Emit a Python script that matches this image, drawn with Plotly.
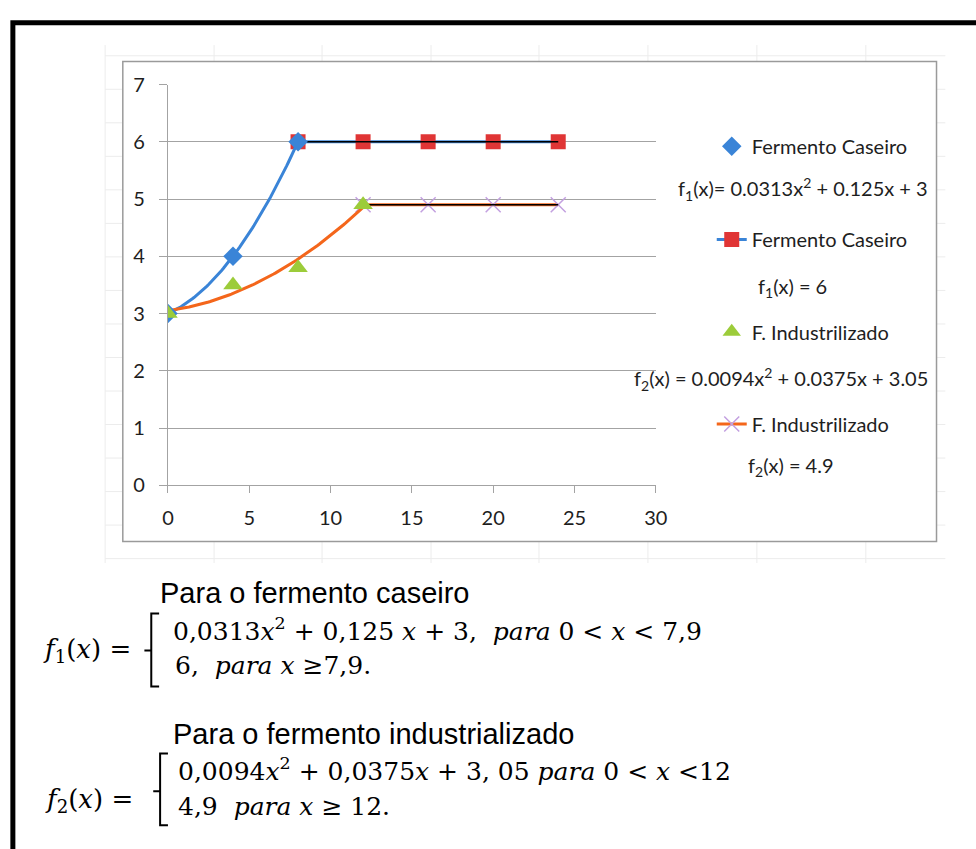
import numpy as np
import plotly.graph_objects as go

W, H = 976, 849

# ---------------- data ----------------
caseiro_x = [0, 4, 8]
caseiro_y = [3, 4, 6]
caseiro_plateau_x = [8, 12, 16, 20, 24]
caseiro_plateau_y = [6, 6, 6, 6, 6]

indus_x = [0, 4, 8, 12]
indus_y = [3.0, 3.5, 3.8, 4.9]
indus_plateau_x = [12, 16, 20, 24]
indus_plateau_y = [4.9, 4.9, 4.9, 4.9]

# trendline coefficients (as printed on the chart) and their spans
f1_coef = [0.0313, 0.125, 3.0]
f1_span = [0, 8]
f1_const = 6.0
f1_const_span = [8, 24]
f2_coef = [0.0094, 0.0375, 3.05]
f2_span = [0, 12]
f2_const = 4.9
f2_const_span = [12, 24]

x_ticks = [0, 5, 10, 15, 20, 25, 30]
y_ticks = [0, 1, 2, 3, 4, 5, 6, 7]

legend_names = ["Fermento Caseiro", "Fermento Caseiro", "F. Industrilizado", "F. Industrilizado"]
eq_labels = [
    "f<sub>1</sub>(x)= 0.0313x<sup>2</sup> + 0.125x + 3",
    "f<sub>1</sub>(x) = 6",
    "f<sub>2</sub>(x) = 0.0094x<sup>2</sup> + 0.0375x + 3.05",
    "f<sub>2</sub>(x) = 4.9",
]

# ---------------- colours ----------------
BLUE = "#3a84d7"
RED = "#e03535"
GREEN = "#9ccc3a"
ORANGE = "#f4661b"
PURPLE = "#c3a0e0"
GRID = "#a3a3a3"
CHART_FONT = "Lato"
TXT = "#1e1e1e"


def PX(x):
    return x / W


def PY(y):
    return 1 - y / H


fig = go.Figure()

# plateau series (lines + markers)
fig.add_trace(go.Scatter(x=caseiro_plateau_x, y=caseiro_plateau_y, mode="lines+markers",
                         name=legend_names[1], legend="legend2",
                         line=dict(color=BLUE, width=3),
                         marker=dict(symbol="square", size=15, color=RED)))
fig.add_trace(go.Scatter(x=indus_plateau_x, y=indus_plateau_y, mode="lines+markers",
                         name=legend_names[3], legend="legend4",
                         line=dict(color=ORANGE, width=3),
                         marker=dict(symbol="x-thin", size=15, line=dict(color=PURPLE, width=1.5), color=PURPLE)))

# trendlines
t1 = np.linspace(f1_span[0], f1_span[1], 81)
fig.add_trace(go.Scatter(x=t1, y=np.polyval(f1_coef, t1), mode="lines", showlegend=False,
                         line=dict(color=BLUE, width=3), hoverinfo="skip"))
t2 = np.linspace(f2_span[0], f2_span[1], 121)
fig.add_trace(go.Scatter(x=t2, y=np.polyval(f2_coef, t2), mode="lines", showlegend=False,
                         line=dict(color=ORANGE, width=3), hoverinfo="skip"))
fig.add_trace(go.Scatter(x=f1_const_span, y=[f1_const, f1_const], mode="lines", showlegend=False,
                         line=dict(color="black", width=1.5), hoverinfo="skip"))
fig.add_trace(go.Scatter(x=f2_const_span, y=[f2_const, f2_const], mode="lines", showlegend=False,
                         line=dict(color="black", width=1.5), hoverinfo="skip"))

# point series
fig.add_trace(go.Scatter(x=caseiro_x, y=caseiro_y, mode="markers", name=legend_names[0],
                         legend="legend",
                         marker=dict(symbol="diamond", size=15, color=BLUE)))
fig.add_trace(go.Scatter(x=indus_x, y=indus_y, mode="markers", name=legend_names[2],
                         legend="legend3",
                         marker=dict(symbol="triangle-up", size=17, color=GREEN)))

# ---------------- shapes ----------------
shapes = []
# faint spreadsheet cell grid behind the chart image
row_y = [44 + 34.5 * k for k in range(16)]
col_x = [101, 212, 322, 433, 543, 654, 765, 876]
for yy in row_y:
    shapes.append(dict(type="line", xref="paper", yref="paper", x0=PX(101), x1=PX(957),
                       y0=PY(yy), y1=PY(yy), line=dict(color="#ececec", width=1), layer="below"))
for xx in col_x:
    shapes.append(dict(type="line", xref="paper", yref="paper", x0=PX(xx), x1=PX(xx),
                       y0=PY(33), y1=PY(566), line=dict(color="#ececec", width=1), layer="below"))
# chart area
shapes.append(dict(type="rect", xref="paper", yref="paper", x0=PX(119), x1=PX(948),
                   y0=PY(544), y1=PY(50), fillcolor="white",
                   line=dict(color="#9a9a9a", width=1.5), layer="below"))
# outer black frame
shapes.append(dict(type="rect", xref="paper", yref="paper", x0=PX(7), x1=PX(1000),
                   y0=PY(900), y1=PY(10), line=dict(color="black", width=5), layer="above"))


def brace(xv, ytop, ybot, ymid, right, left):
    return dict(type="path", xref="paper", yref="paper",
                path=(f"M {PX(right)},{PY(ytop)} L {PX(xv)},{PY(ytop)} L {PX(xv)},{PY(ybot)} L {PX(right)},{PY(ybot)} "
                      f"M {PX(xv)},{PY(ymid)} L {PX(left)},{PY(ymid)}"),
                line=dict(color="black", width=2))


shapes.append(brace(148, 618, 693, 656, 156, 141))
shapes.append(brace(157, 762, 836, 801, 165, 150))

# ---------------- annotations ----------------
ann = []
# legend equation labels
eq_pos = [(941, 181, "right"), (801, 282, "center"), (941, 377, "right"), (800, 467, "center")]
for txt, (xx, yy, anc) in zip(eq_labels, eq_pos):
    ann.append(dict(text=txt, x=PX(xx), y=PY(yy), xref="paper", yref="paper", xanchor=anc,
                    yanchor="middle", showarrow=False, font=dict(family=CHART_FONT, size=20, color=TXT)))

SANS = "Liberation Sans"
SERIF = "DejaVu Serif"
nb = "\u00a0"


def add(text, x, y, family, size):
    ann.append(dict(text=text, x=PX(x), y=PY(y), xref="paper", yref="paper", xanchor="left",
                    yanchor="middle", showarrow=False, font=dict(family=family, size=size, color="black")))


add("Para o fermento caseiro", 155, 597, SANS, 29)
add("<i>f</i><sub>1</sub>(<i>x</i>) =", 36, 656, SERIF, 26)
add(f"0,0313<i>x</i><sup>2</sup> + 0,125 <i>x</i> + 3,{nb}{nb}<i>para</i> 0 &lt; <i>x</i> &lt; 7,9", 168, 634, SERIF, 25)
add(f"6,{nb}{nb}<i>para x</i> ≥7,9.", 170, 671, SERIF, 25)

add("Para o fermento industrializado", 168, 742, SANS, 29)
add("<i>f</i><sub>2</sub>(<i>x</i>) =", 38, 810, SERIF, 26)
add(f"0,0094<i>x</i><sup>2</sup> + 0,0375<i>x</i> + 3,{nb}05 <i>para</i> 0 &lt; <i>x</i> &lt;12", 173, 778, SERIF, 25)
add(f"4,9{nb}{nb}<i>para x</i> ≥ 12.", 173, 817, SERIF, 25)


def leg(ycenter):
    return dict(x=PX(719), y=PY(ycenter), xanchor="left", yanchor="middle", bgcolor="rgba(0,0,0,0)",
                borderwidth=0, font=dict(family=CHART_FONT, size=20, color=TXT), itemwidth=30)


fig.update_layout(
    width=W, height=H, margin=dict(l=0, r=0, t=0, b=0),
    paper_bgcolor="white", plot_bgcolor="rgba(0,0,0,0)",
    showlegend=True,
    legend=leg(137), legend2=leg(233), legend3=leg(328), legend4=leg(423),
    xaxis=dict(domain=[PX(165), PX(662)], range=[0, 30], tickvals=x_ticks, ticks="outside",
               ticklen=7, tickcolor=GRID, showline=True, linecolor=GRID, linewidth=1,
               showgrid=False, zeroline=False, ticklabelstandoff=8,
               tickfont=dict(family=CHART_FONT, size=20, color=TXT)),
    yaxis=dict(domain=[PY(486), PY(73.7)], range=[0, 7], tickvals=y_ticks, ticks="outside",
               ticklen=8, tickcolor=GRID, showline=True, linecolor=GRID, linewidth=1,
               showgrid=True, gridcolor=GRID, gridwidth=1, zeroline=False, ticklabelstandoff=10,
               tickfont=dict(family=CHART_FONT, size=20, color=TXT)),
    shapes=shapes, annotations=ann,
)

fig.write_html("out.html")
